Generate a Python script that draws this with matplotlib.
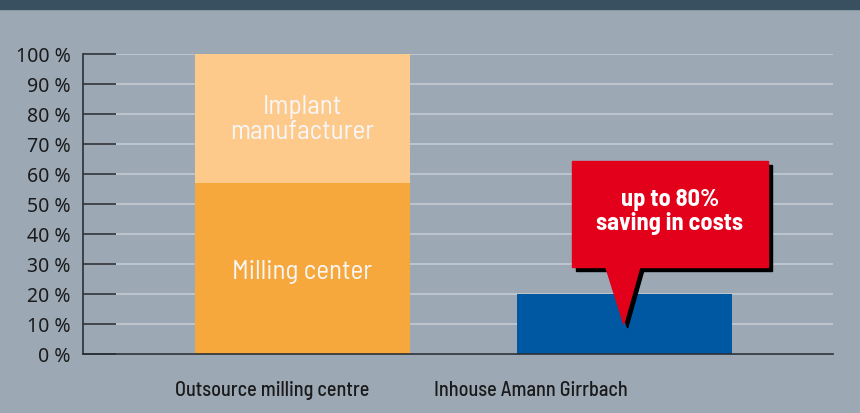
import matplotlib
matplotlib.use("Agg")
import matplotlib.pyplot as plt
from matplotlib.patches import Polygon, Rectangle

# data
categories = ["Outsource milling centre", "Inhouse Amann Girrbach"]
milling_center = [57, 0]
implant_manufacturer = [43, 0]
inhouse = [0, 20]
yticks = [0, 10, 20, 30, 40, 50, 60, 70, 80, 90, 100]
ytick_labels = [f"{v} %" for v in yticks]
callout_text = "up to 80%\nsaving in costs"

BG = "#9ca9b5"
BAND = "#38505f"
C_MILL = "#f7a83d"
C_IMPL = "#fdca8b"
C_BLUE = "#0057a2"
C_RED = "#e2001a"

plt.rcParams['font.family'] = ['Barlow Semi Condensed', 'DejaVu Sans']
TICK_FONT = ['Noto Sans', 'DejaVu Sans']

fig = plt.figure(figsize=(8.6, 4.14), dpi=100, facecolor=BG)
fig.patches.append(Rectangle((0, 1 - 10 / 414), 1, 10 / 414, transform=fig.transFigure,
                             color=BAND, zorder=0))
ax = fig.add_axes([83 / 860, 1 - 355 / 414, 750 / 860, 300 / 414])
ax.set_facecolor(BG)

x = [0, 1]
w = 0.668
ax.bar(x[0], milling_center[0], width=w, color=C_MILL, zorder=2)
ax.bar(x[0], implant_manufacturer[0], bottom=milling_center[0], width=w, color=C_IMPL, zorder=2)
ax.bar(x[1], inhouse[1], width=w, color=C_BLUE, zorder=2)

ax.text(x[0], milling_center[0] + implant_manufacturer[0] / 2, "Implant\nmanufacturer",
        ha="center", va="center", color="#f6f6f6", fontsize=19.5, linespacing=1.05, zorder=3)
ax.text(x[0], milling_center[0] / 2 - 1, "Milling center",
        ha="center", va="center", color="#f6f6f6", fontsize=19.5, zorder=3)

# callout over the inhouse bar
cx = x[1]
box_l, box_r, box_b, box_t = cx - 0.163, cx + 0.446, 29, 64.3
tri = [(cx - 0.058, box_b), (cx + 0.048, box_b), (cx - 0.002, 10)]
dx, dy = 0.012, -1.3
ax.add_patch(Rectangle((box_l + dx, box_b + dy), box_r - box_l, box_t - box_b,
                       color="black", zorder=4, clip_on=False))
ax.add_patch(Polygon([(px + dx, py + dy) for px, py in tri], closed=True,
                     color="black", zorder=4))
ax.add_patch(Rectangle((box_l, box_b), box_r - box_l, box_t - box_b,
                       color=C_RED, zorder=5, clip_on=False))
ax.add_patch(Polygon(tri, closed=True, color=C_RED, zorder=5))
ax.text((box_l + box_r) / 2, (box_b + box_t) / 2 + 1, callout_text, ha="center", va="center",
        color="white", fontsize=17.5, fontweight="bold", linespacing=1.1, zorder=6)

ax.set_xlim(-0.682, 1.648)
ax.set_ylim(0, 100)
ax.set_yticks(yticks)
ax.set_yticklabels(ytick_labels, fontsize=14, color="#1a1a1a", family=TICK_FONT)
ax.tick_params(axis="y", direction="in", length=24, width=1.2, color="#2b3036", pad=9)
ax.set_xticks([-0.095, 0.708])
ax.set_xticklabels(categories, fontsize=14.5, color="#1a1a1a", fontweight="medium")
ax.tick_params(axis="x", length=0, pad=19)

ax.grid(axis="y", color="#c3cbd3", linewidth=1.2, zorder=1)
ax.set_axisbelow(True)
for s in ["top", "right"]:
    ax.spines[s].set_visible(False)
ax.spines["left"].set_color("#2b3036")
ax.spines["bottom"].set_color("#2b3036")
ax.spines["left"].set_linewidth(1.2)
ax.spines["bottom"].set_linewidth(1.2)

fig.savefig("out.png", dpi=100, facecolor=BG)
